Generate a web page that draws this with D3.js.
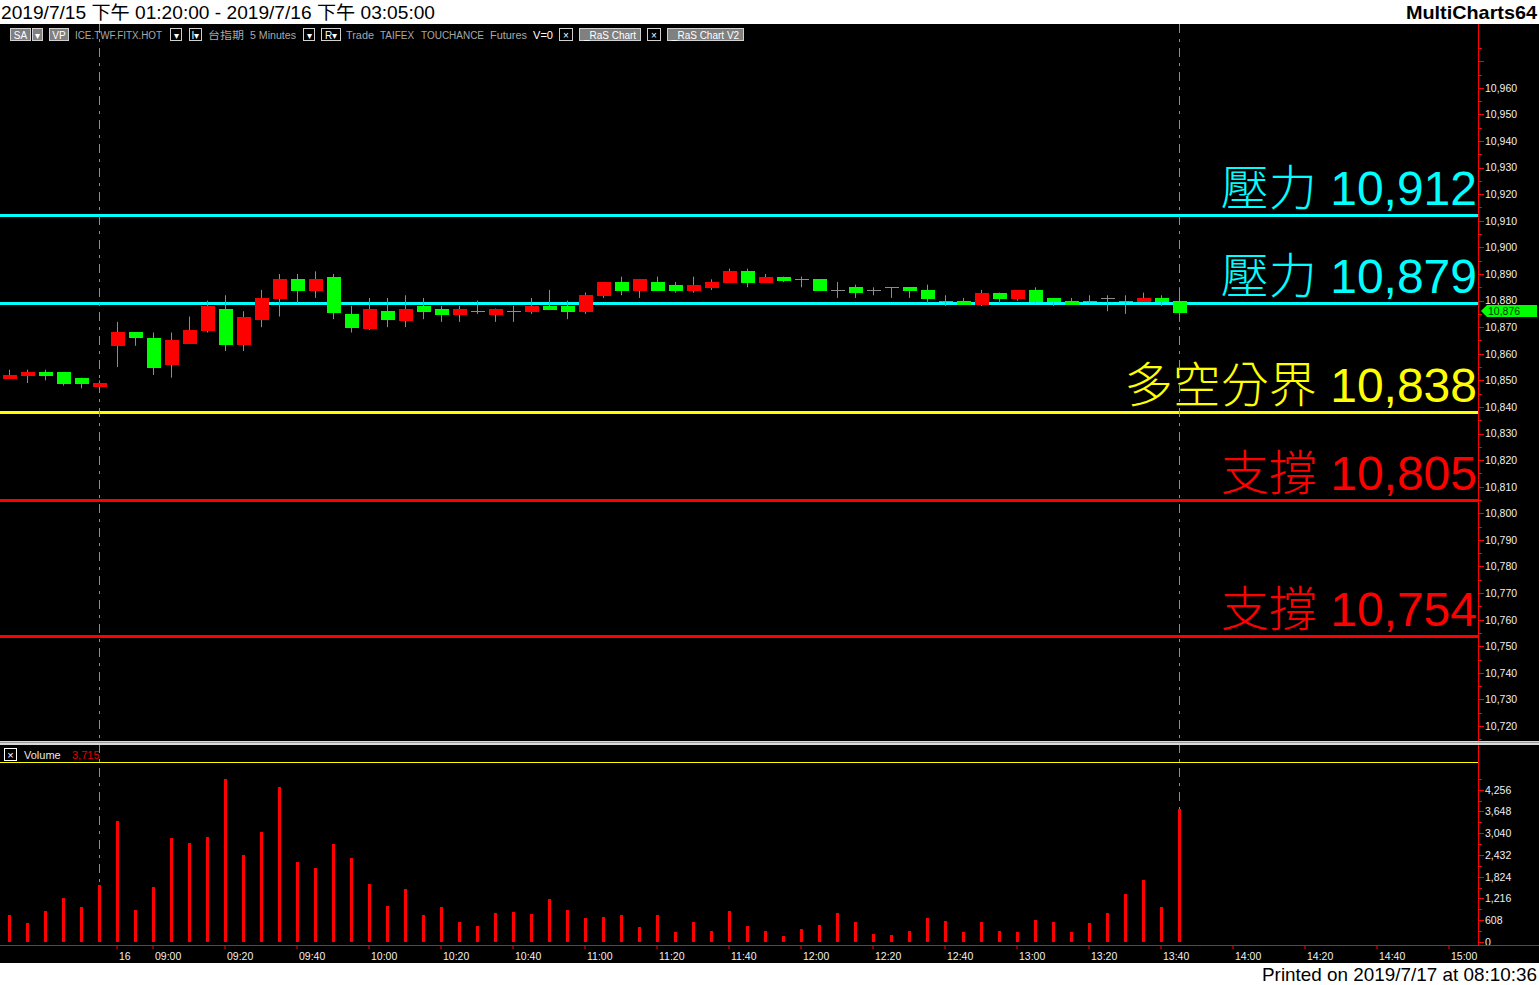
<!DOCTYPE html>
<html><head><meta charset="utf-8">
<script src="https://cdn.jsdelivr.net/npm/d3@7/dist/d3.min.js"></script>
<style>body{margin:0;background:#fff;overflow:hidden}svg{display:block}</style>
</head><body><svg id="c" width="1539" height="985"></svg>
<script>
// ---------------- DATA ----------------
const barTimes = ["04:35","04:40","04:45","04:50","04:55","05:00",
 "08:50","08:55","09:00","09:05","09:10","09:15","09:20","09:25","09:30","09:35","09:40","09:45",
 "09:50","09:55","10:00","10:05","10:10","10:15","10:20","10:25","10:30","10:35","10:40","10:45",
 "10:50","10:55","11:00","11:05","11:10","11:15","11:20","11:25","11:30","11:35","11:40","11:45",
 "11:50","11:55","12:00","12:05","12:10","12:15","12:20","12:25","12:30","12:35","12:40","12:45",
 "12:50","12:55","13:00","13:05","13:10","13:15","13:20","13:25","13:30","13:35","13:40","13:45"];
const futureSlots = ["13:50","13:55","14:00","14:05","14:10","14:15","14:20","14:25","14:30","14:35",
 "14:40","14:45","14:50","14:55","15:00","15:05"];
const opens  = [10851,10852,10853,10853,10851,10848,10863,10868,10866,10856,10864,10869,10877,10864,10873,10881,10888,10884,10889,10875,10870,10876,10873,10878,10877,10875,10876,10875,10876,10876,10878,10878,10876,10882,10887,10884,10887,10886,10884,10885,10887,10891,10887,10889,10888,10888,10884,10885,10884,10885,10885,10884,10880,10880,10879,10883,10881,10884,10881,10880,10880,10881,10880,10880,10881,10880];
const highs  = [10854,10854,10854,10853,10851,10850,10872,10868,10868,10868,10874,10880,10882,10876,10884,10890,10890,10891,10890,10878,10881,10881,10882,10881,10878,10878,10880,10877,10878,10881,10884,10880,10883,10887,10889,10888,10889,10887,10889,10888,10892,10892,10890,10889,10889,10888,10887,10886,10885,10885,10885,10886,10882,10881,10884,10883,10884,10885,10881,10881,10882,10882,10882,10883,10882,10885];
const lows   = [10851,10849,10850,10848,10847,10847,10855,10863,10852,10851,10864,10868,10861,10861,10870,10874,10879,10881,10873,10868,10869,10870,10870,10873,10872,10872,10875,10872,10872,10875,10877,10873,10875,10881,10882,10881,10884,10883,10883,10884,10887,10885,10887,10887,10885,10884,10881,10881,10882,10881,10881,10879,10878,10879,10878,10879,10880,10879,10878,10879,10879,10876,10875,10880,10878,10872];
const closes = [10852,10853,10852,10849,10849,10849,10868,10866,10855,10865,10869,10878,10864,10874,10881,10888,10884,10888,10876,10870,10877,10873,10877,10876,10875,10877,10876,10877,10876,10878,10877,10876,10882,10887,10884,10888,10884,10884,10886,10887,10891,10887,10889,10888,10888,10884,10884,10883,10884,10885,10884,10881,10880,10879,10883,10881,10884,10880,10880,10879,10880,10881,10880,10881,10880,10876];
const volumes = [750,530,860,1230,980,1590,3380,890,1540,2900,2760,2930,4550,2430,3070,4330,2230,2070,2730,2340,1620,1000,1480,750,980,560,450,810,840,780,1200,890,670,700,750,420,750,280,560,310,870,450,310,170,360,470,810,560,220,200,310,670,590,280,560,310,280,610,560,280,530,810,1340,1730,980,3715];
const levelValues = [10912, 10879, 10838, 10805, 10754];
const levelNames  = ["壓力", "壓力", "多空分界", "支撐", "支撐"];
const priceTicks  = [10720,10730,10740,10750,10760,10770,10780,10790,10800,10810,10820,10830,10840,10850,10860,10870,10880,10890,10900,10910,10920,10930,10940,10950,10960];
const volumeTicks = [0,608,1216,1824,2432,3040,3648,4256];
const timeTickSlots  = ["08:50","09:00","09:20","09:40","10:00","10:20","10:40","11:00","11:20","11:40","12:00","12:20","12:40","13:00","13:20","13:40","14:00","14:20","14:40","15:00"];
const timeTickLabels = ["16","09:00","09:20","09:40","10:00","10:20","10:40","11:00","11:20","11:40","12:00","12:20","12:40","13:00","13:20","13:40","14:00","14:20","14:40","15:00"];
const titleText = "2019/7/15 下午 01:20:00 - 2019/7/16 下午 03:05:00";
const brandText = "MultiCharts64";
const printedText = "Printed on 2019/7/17 at 08:10:36";
const separatorSlot = "05:00";

// ---------------- STYLE ----------------
const levelColors = ["#00ffff","#00ffff","#ffff00","#ff0000","#ff0000"];
const UP = "#ff0000", DOWN = "#00ff00", WICK = "#8c8c8c";
const FONT = "'Liberation Sans', Arial, 'Noto Sans CJK TC', sans-serif";
const W = 1539, H = 985, AX = 1478;

const svg = d3.select("#c");
svg.append("rect").attr("width", W).attr("height", H).attr("fill", "#fff");
svg.append("rect").attr("x", 0).attr("y", 24).attr("width", W).attr("height", 939).attr("fill", "#000");

// title
svg.append("text").attr("x", 1).attr("y", 19).attr("font-family", FONT).attr("font-size", 18.5)
  .attr("fill", "#000").attr("textLength", 434).attr("lengthAdjust", "spacingAndGlyphs").text(titleText);
svg.append("text").attr("x", 1537).attr("y", 19).attr("text-anchor", "end").attr("font-family", FONT)
  .attr("font-size", 19).attr("font-weight", "bold").attr("fill", "#000")
  .attr("textLength", 131).attr("lengthAdjust", "spacingAndGlyphs").text(brandText);
svg.append("text").attr("x", 1537).attr("y", 981).attr("text-anchor", "end").attr("font-family", FONT)
  .attr("font-size", 18.5).attr("fill", "#000").attr("textLength", 275).attr("lengthAdjust", "spacingAndGlyphs").text(printedText);

// scales
const slots = barTimes.concat(futureSlots);
const x = d3.scaleBand().domain(slots).range([0, 18 * slots.length]).paddingInner(0).paddingOuter(0);
const cx = t => x(t) + x.bandwidth() / 2;
const y = d3.scaleLinear().domain([10714, 10984]).range([742, 24]);
const yv = d3.scaleLinear().domain([0, 5000]).range([942, 763]);

const bars = barTimes.map((t, i) => ({t, o: opens[i], h: highs[i], l: lows[i], c: closes[i], v: volumes[i]}));

// level lines + labels
const lv = svg.append("g");
levelValues.forEach((v, i) => {
  const yy = Math.round(y(v));
  lv.append("rect").attr("x", 0).attr("y", yy - 1).attr("width", AX).attr("height", 3).attr("fill", levelColors[i]);
  lv.append("text").attr("x", 1477).attr("y", yy - 10).attr("text-anchor", "end")
    .attr("font-family", FONT).attr("font-size", 48).attr("fill", levelColors[i])
    .attr("font-weight", 300)
    .text(levelNames[i] + " " + d3.format(",")(v));
});

// vertical dashed lines
[separatorSlot, barTimes[barTimes.length - 1]].forEach(t => {
  svg.append("line").attr("x1", cx(t) + 0.5).attr("x2", cx(t) + 0.5).attr("y1", 24).attr("y2", 942)
    .attr("stroke", "#8c8c8c").attr("stroke-width", 1).attr("stroke-dasharray", "9,6,3,6");
});

// candles
const cg = svg.append("g");
bars.forEach(d => {
  const c = Math.round(cx(d.t));
  cg.append("rect").attr("x", c).attr("y", y(d.h)).attr("width", 1).attr("height", Math.max(1, y(d.l) - y(d.h))).attr("fill", WICK);
  if (d.o === d.c) {
    cg.append("rect").attr("x", c - 6).attr("y", Math.round(y(d.o))).attr("width", 14).attr("height", 1).attr("fill", WICK);
  } else {
    const top = y(Math.max(d.o, d.c)), bot = y(Math.min(d.o, d.c));
    cg.append("rect").attr("x", c - 6).attr("y", Math.round(top)).attr("width", 14)
      .attr("height", Math.max(2, Math.round(bot - top) + 1)).attr("fill", d.c > d.o ? UP : DOWN);
  }
});

// price axis
const pa = svg.append("g").attr("transform", `translate(${AX},0)`);
pa.append("rect").attr("x", 0).attr("y", 24).attr("width", 1).attr("height", 921).attr("fill", "#ff0000");
const minorP = d3.range(10715, 10980, 5);
pa.selectAll(".mp").data(minorP).join("rect").attr("x", 1).attr("y", d => Math.round(y(d))).attr("width", d => d % 10 === 0 ? 5 : 3).attr("height", 1).attr("fill", "#ff0000");
const axP = d3.axisRight(y).tickValues(priceTicks).tickFormat(d3.format(",")).tickSize(0).tickPadding(7);
const gP = pa.append("g").call(axP);
gP.select(".domain").remove();
gP.selectAll("text").attr("font-family", FONT).attr("font-size", 10.5).attr("fill", "#f0f0f0");

// current price flag
const last = bars[bars.length - 1];
const fy = Math.round(y(last.c));
svg.append("path").attr("d", `M${AX + 3},${fy} L${AX + 9},${fy - 6} L1537,${fy - 6} L1537,${fy + 6} L${AX + 9},${fy + 6} Z`).attr("fill", "#00ff00");
svg.append("text").attr("x", AX + 10).attr("y", fy + 4).attr("font-family", FONT).attr("font-size", 10.5).attr("fill", "#003300").text(d3.format(",")(last.c));

// separator
svg.append("rect").attr("x", 0).attr("y", 741).attr("width", W).attr("height", 4).attr("fill", "#d8d8d8");
svg.append("rect").attr("x", 0).attr("y", 742).attr("width", W).attr("height", 1).attr("fill", "#9a9a9a");
svg.append("rect").attr("x", AX).attr("y", 745).attr("width", 1).attr("height", 200).attr("fill", "#ff0000");

// volume header
svg.append("rect").attr("x", 4.5).attr("y", 748.5).attr("width", 12).attr("height", 12).attr("fill", "none").attr("stroke", "#fff");
svg.append("text").attr("x", 10.5).attr("y", 758.5).attr("text-anchor", "middle").attr("font-family", FONT).attr("font-size", 11).attr("fill", "#fff").text("×");
svg.append("text").attr("x", 24).attr("y", 759).attr("font-family", FONT).attr("font-size", 11).attr("fill", "#e8e8e8").text("Volume");
svg.append("text").attr("x", 72).attr("y", 759).attr("font-family", FONT).attr("font-size", 11).attr("fill", "#e00000").text(d3.format(",")(last.v));
svg.append("rect").attr("x", 0).attr("y", 762).attr("width", AX).attr("height", 1).attr("fill", "#ffff00");

// volume bars
svg.append("g").selectAll("rect").data(bars).join("rect")
  .attr("x", d => Math.round(cx(d.t)) - 1).attr("y", d => Math.round(yv(d.v)))
  .attr("width", 3).attr("height", d => yv(0) - Math.round(yv(d.v))).attr("fill", "#ff0000");

// volume axis
const va = svg.append("g").attr("transform", `translate(${AX},0)`);
const minorV = d3.range(0, 4600, 304);
va.selectAll("rect").data(minorV).join("rect").attr("x", 1).attr("y", d => Math.round(yv(d))).attr("width", d => d % 608 === 0 ? 5 : 3).attr("height", 1).attr("fill", "#ff0000");
const gV = va.append("g").call(d3.axisRight(yv).tickValues(volumeTicks).tickFormat(d3.format(",")).tickSize(0).tickPadding(7));
gV.select(".domain").remove();
gV.selectAll("text").attr("font-family", FONT).attr("font-size", 10.5).attr("fill", "#f0f0f0");

// time axis
svg.append("rect").attr("x", 0).attr("y", 945).attr("width", W).attr("height", 1).attr("fill", "#ff0000");
const gT = svg.append("g").attr("transform", "translate(0,945)")
  .call(d3.axisBottom(x).tickValues(timeTickSlots).tickFormat((d, i) => timeTickLabels[i]).tickSize(4).tickPadding(4));
gT.select(".domain").remove();
gT.selectAll(".tick line").attr("stroke", "#ff0000");
gT.selectAll("text").attr("font-family", FONT).attr("font-size", 10.5).attr("fill", "#f0f0f0")
  .attr("text-anchor", "start").attr("dx", 2);

// toolbar
const tb = svg.append("g").attr("font-family", FONT).attr("font-size", 10);
function box(x0, w, label, fill, color) {
  tb.append("rect").attr("x", x0 + 0.5).attr("y", 28.5).attr("width", w).attr("height", 12).attr("fill", fill).attr("stroke", "#d0d0d0");
  if (label) tb.append("text").attr("x", x0 + w / 2 + 0.5).attr("y", 38.5).attr("text-anchor", "middle").attr("fill", color || "#fff").text(label);
}
function txt(x0, label, color, len) {
  const t = tb.append("text").attr("x", x0).attr("y", 38.5).attr("fill", color || "#a8a8a8").text(label);
  if (len) t.attr("textLength", len).attr("lengthAdjust", "spacingAndGlyphs");
}
box(10, 20, "SA", "#808080");
box(32, 10, "▾", "#808080");
box(49, 19, "VP", "#808080");
txt(75, "ICE.TWF.FITX.HOT", null, 87);
box(170, 11, "▾", "#000");
box(189, 12, "I▾", "#000");
txt(208, "台指期", null, 36);
txt(250, "5 Minutes", null, 46);
box(303, 11, "▾", "#000");
box(321, 19, "R▾", "#000");
txt(346, "Trade", null, 28);
txt(380, "TAIFEX", null, 34);
txt(421, "TOUCHANCE", null, 63);
txt(490, "Futures", null, 37);
txt(533, "V=0", "#ffffff", 20);
box(559, 13, "×", "#000");
box(579, 61, "_RaS Chart", "#808080");
box(647, 13, "×", "#000");
box(667, 76, "_RaS Chart V2", "#808080");
</script></body></html>
